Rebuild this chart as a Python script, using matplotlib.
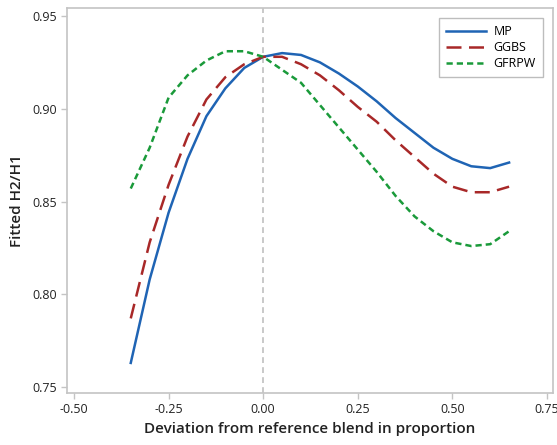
import numpy as np
import matplotlib
matplotlib.use("Agg")
import matplotlib.pyplot as plt
from matplotlib.ticker import FixedLocator

plt.rcParams['font.family'] = ['Open Sans', 'DejaVu Sans']

# deviation from reference blend (proportion)
dev = [-0.35, -0.30, -0.25, -0.20, -0.15, -0.10, -0.05, 0.00, 0.05, 0.10, 0.15,
       0.20, 0.25, 0.30, 0.35, 0.40, 0.45, 0.50, 0.55, 0.60, 0.65]

mp = [0.763, 0.808, 0.844, 0.873, 0.896, 0.911, 0.922, 0.928, 0.930, 0.929, 0.925,
      0.919, 0.912, 0.904, 0.895, 0.887, 0.879, 0.873, 0.869, 0.868, 0.871]
ggbs = [0.787, 0.828, 0.859, 0.885, 0.905, 0.917, 0.924, 0.928, 0.928, 0.924, 0.918,
        0.910, 0.901, 0.893, 0.883, 0.874, 0.865, 0.858, 0.855, 0.855, 0.858]
gfrpw = [0.857, 0.879, 0.906, 0.918, 0.926, 0.931, 0.931, 0.928, 0.921, 0.914, 0.902,
         0.890, 0.878, 0.866, 0.853, 0.842, 0.834, 0.828, 0.826, 0.827, 0.834]

xticks = [-0.50, -0.25, 0.00, 0.25, 0.50, 0.75]
yticks = [0.75, 0.80, 0.85, 0.90, 0.95]

fig = plt.figure(figsize=(5.57, 4.45), dpi=100)
ax = fig.add_axes([0.1203, 0.1169, 0.8725, 0.8651])

ax.axvline(0, color='#c0c0c0', lw=1.2, ls=(0, (3.5, 2.5)), zorder=1)

ax.plot(dev, mp, color='#1f64b4', lw=1.8, label='MP', zorder=3)
ax.plot(dev, ggbs, color='#a82828', lw=1.8, ls=(0, (6, 3)), label='GGBS', zorder=3)
ax.plot(dev, gfrpw, color='#1a9a3a', lw=1.8, ls=(0, (2.5, 1.6)), label='GFRPW', zorder=3)

ax.set_xlim(-0.5185, 0.766)
ax.set_ylim(0.7468, 0.9543)
ax.xaxis.set_major_locator(FixedLocator(xticks))
ax.yaxis.set_major_locator(FixedLocator(yticks))
ax.set_xticklabels(['%.2f' % t for t in xticks])
ax.set_yticklabels(['%.2f' % t for t in yticks])

for s in ax.spines.values():
    s.set_color('#c4c4c4')
    s.set_linewidth(1.2)
ax.tick_params(axis='both', colors='#c4c4c4', labelcolor='#222222', labelsize=9,
               length=4, width=1)

ax.set_xlabel('Deviation from reference blend in proportion', fontsize=11,
              fontweight='semibold', color='#222222', labelpad=4)
ax.set_ylabel('Fitted H2/H1', fontsize=11, fontweight='semibold',
              color='#222222', labelpad=6)

leg = ax.legend(loc='upper right', bbox_to_anchor=(0.992, 0.99), fontsize=9,
                handlelength=3.2, fancybox=False, framealpha=1,
                borderpad=0.55, labelspacing=0.25, handletextpad=0.6)
leg.get_frame().set_edgecolor('#bdbdbd')
leg.get_frame().set_linewidth(1.0)

fig.savefig('out.png', dpi=100)
